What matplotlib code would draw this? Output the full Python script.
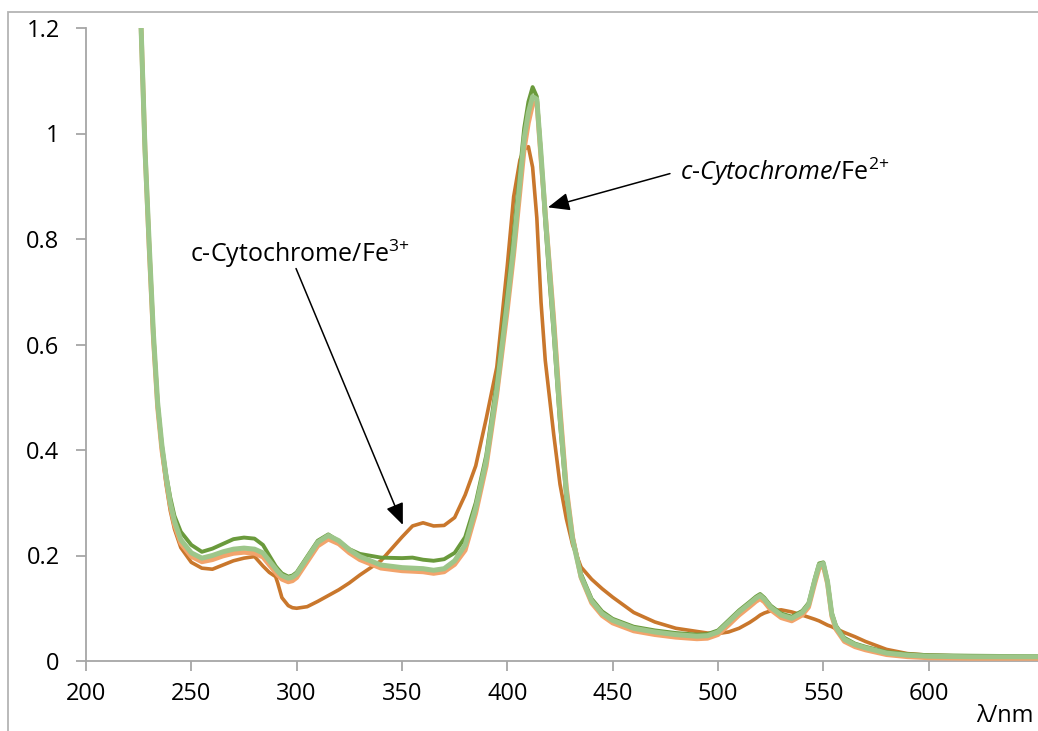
import matplotlib
matplotlib.use('Agg')
import matplotlib.pyplot as plt
from matplotlib.patches import Rectangle

plt.rcParams['font.family'] = ['Open Sans', 'DejaVu Sans']
plt.rcParams['mathtext.fontset'] = 'custom'
plt.rcParams['mathtext.rm'] = 'Open Sans'
plt.rcParams['mathtext.it'] = 'Open Sans:italic'
plt.rcParams['mathtext.bf'] = 'Open Sans:bold'

# wavelength grid (nm)
wl = [224, 226, 228, 230, 232, 234, 236, 238, 240, 242, 245, 250, 255, 260, 265,
      270, 275, 280, 284, 287, 290, 291, 293, 296, 298, 300, 305, 310, 315, 320, 325, 330,
      340, 350, 355, 360, 365, 370, 375, 380, 385, 390, 395, 400, 403, 406, 408,
      410, 412, 414, 416, 418, 420, 422, 425, 428, 431, 435, 440, 445, 450, 460,
      470, 480, 490, 495, 500, 505, 510, 515, 518, 520, 522, 525, 530, 535, 540,
      543, 546, 548, 550, 552, 554, 556, 560, 565, 570, 580, 590, 600, 620, 652]

# c-Cytochrome / Fe3+ (dark orange)
fe3 = [1.45, 1.22, 0.97, 0.78, 0.61, 0.48, 0.40, 0.335, 0.285, 0.25, 0.215, 0.187, 0.176, 0.174, 0.182,
       0.19, 0.195, 0.198, 0.18, 0.168, 0.16, 0.148, 0.12, 0.105, 0.101, 0.10, 0.103, 0.113, 0.124, 0.135, 0.148, 0.163,
       0.19, 0.235, 0.256, 0.262, 0.256, 0.257, 0.272, 0.315, 0.37, 0.46, 0.557, 0.75, 0.88, 0.95, 0.97,
       0.975, 0.936, 0.84, 0.68, 0.57, 0.50, 0.43, 0.335, 0.27, 0.22, 0.178, 0.155, 0.137, 0.121, 0.092,
       0.074, 0.062, 0.056, 0.053, 0.052, 0.055, 0.062, 0.073, 0.081, 0.087, 0.091, 0.095, 0.097, 0.093, 0.087,
       0.083, 0.079, 0.076, 0.072, 0.068, 0.065, 0.061, 0.054, 0.046, 0.037, 0.022, 0.014, 0.011, 0.009, 0.008]

# reduced samples
dark_green = [1.45, 1.22, 0.97, 0.79, 0.62, 0.49, 0.41, 0.355, 0.31, 0.275, 0.245, 0.22, 0.207, 0.213, 0.222,
              0.231, 0.234, 0.232, 0.22, 0.2, 0.18, 0.175, 0.166, 0.16, 0.162, 0.168, 0.198, 0.228, 0.24, 0.227, 0.212, 0.203,
              0.196, 0.195, 0.196, 0.192, 0.19, 0.193, 0.205, 0.235, 0.30, 0.39, 0.53, 0.70, 0.81, 0.93, 1.01,
              1.06, 1.088, 1.07, 0.96, 0.83, 0.72, 0.62, 0.45, 0.31, 0.235, 0.165, 0.118, 0.094, 0.08, 0.065,
              0.058, 0.053, 0.05, 0.051, 0.058, 0.077, 0.096, 0.112, 0.122, 0.127, 0.12, 0.105, 0.09, 0.084, 0.095,
              0.11, 0.157, 0.185, 0.187, 0.152, 0.092, 0.067, 0.044, 0.033, 0.027, 0.017, 0.013, 0.011, 0.01, 0.009]

salmon = [1.45, 1.22, 0.97, 0.78, 0.61, 0.48, 0.40, 0.345, 0.295, 0.258, 0.223, 0.198, 0.188, 0.192, 0.199,
          0.204, 0.206, 0.204, 0.197, 0.182, 0.168, 0.163, 0.155, 0.15, 0.152, 0.158, 0.188, 0.218, 0.231, 0.222, 0.205, 0.192,
          0.176, 0.171, 0.17, 0.169, 0.166, 0.169, 0.183, 0.21, 0.28, 0.37, 0.505, 0.665, 0.77, 0.89, 0.97,
          1.02, 1.055, 1.06, 0.95, 0.85, 0.75, 0.65, 0.48, 0.33, 0.235, 0.158, 0.11, 0.086, 0.072, 0.057,
          0.05, 0.045, 0.042, 0.043, 0.05, 0.068, 0.087, 0.103, 0.113, 0.118, 0.112, 0.097, 0.082, 0.076, 0.087,
          0.102, 0.148, 0.176, 0.18, 0.146, 0.085, 0.06, 0.037, 0.027, 0.021, 0.012, 0.008, 0.006, 0.005, 0.005]

light_green = [1.45, 1.22, 0.97, 0.79, 0.62, 0.49, 0.41, 0.35, 0.30, 0.265, 0.23, 0.205, 0.195, 0.2, 0.207,
               0.212, 0.214, 0.212, 0.205, 0.19, 0.175, 0.170, 0.162, 0.157, 0.159, 0.165, 0.195, 0.225, 0.238, 0.228, 0.211, 0.198,
               0.182, 0.177, 0.176, 0.175, 0.172, 0.175, 0.19, 0.22, 0.29, 0.38, 0.515, 0.68, 0.785, 0.91, 0.99,
               1.04, 1.07, 1.065, 0.96, 0.845, 0.74, 0.635, 0.465, 0.32, 0.23, 0.16, 0.114, 0.09, 0.077, 0.062,
               0.055, 0.05, 0.047, 0.048, 0.055, 0.074, 0.093, 0.109, 0.119, 0.124, 0.117, 0.102, 0.087, 0.081, 0.092,
               0.107, 0.154, 0.182, 0.185, 0.15, 0.089, 0.064, 0.041, 0.031, 0.025, 0.015, 0.011, 0.009, 0.008, 0.008]

yticks = [0, 0.2, 0.4, 0.6, 0.8, 1.0, 1.2]
ytick_labels = ['0', '0.2', '0.4', '0.6', '0.8', '1', '1.2']
xticks = [200, 250, 300, 350, 400, 450, 500, 550, 600]

fig = plt.figure(figsize=(10.38, 7.31), dpi=100)
ax = fig.add_axes([86/1038, 1 - 661/731, 952/1038, 633/731])

ax.plot(wl, fe3, color='#C9772C', lw=2.6, solid_joinstyle='round', zorder=3)
ax.plot(wl, dark_green, color='#6A9A3C', lw=2.8, solid_joinstyle='round', zorder=4)
ax.plot(wl, salmon, color='#F2A46C', lw=3.4, solid_joinstyle='round', zorder=5)
ax.plot(wl, light_green, color='#9DC68A', lw=3.6, solid_joinstyle='round', zorder=6)

ax.set_xlim(200, 651.9)
ax.set_ylim(0, 1.2)
ax.set_xticks(xticks)
ax.set_xticklabels([str(x) for x in xticks])
ax.set_yticks(yticks)
ax.set_yticklabels(ytick_labels)

for s in ['top', 'right']:
    ax.spines[s].set_visible(False)
for s in ['left', 'bottom']:
    ax.spines[s].set_color('#A6A6A6')
    ax.spines[s].set_linewidth(1.3)
ax.tick_params(axis='both', colors='#A6A6A6', length=7, width=1.3, labelsize=17,
               labelcolor='black')
ax.tick_params(axis='y', pad=12)
ax.tick_params(axis='x', pad=8)

# annotations
ax.text(249.4, 0.756, 'c-Cytochrome/Fe$^{3{+}}$', fontsize=18, ha='left', va='baseline')
ax.annotate('', xy=(350.4, 0.258), xytext=(299.7, 0.744),
            arrowprops=dict(arrowstyle='-|>,head_length=0.6,head_width=0.25', mutation_scale=22,
                            color='black', lw=1.1, shrinkA=0, shrinkB=0))

ax.text(481.9, 0.911, '$c$-$Cytochrome$/Fe$^{2{+}}$', fontsize=18, ha='left', va='baseline')
ax.annotate('', xy=(419.3, 0.86), xytext=(477.2, 0.924),
            arrowprops=dict(arrowstyle='-|>,head_length=0.6,head_width=0.25', mutation_scale=22,
                            color='black', lw=1.1, shrinkA=0, shrinkB=0))

fig.text(976/1038, 1 - 728/731, 'λ/nm', fontsize=17, ha='left', va='bottom')

fig.patches.append(Rectangle((8/1038, -0.1), 1.2, 1.1 - 12/731, transform=fig.transFigure,
                             fill=False, edgecolor='#B4B4B4', lw=1.3))

fig.savefig('out.png', dpi=100)
